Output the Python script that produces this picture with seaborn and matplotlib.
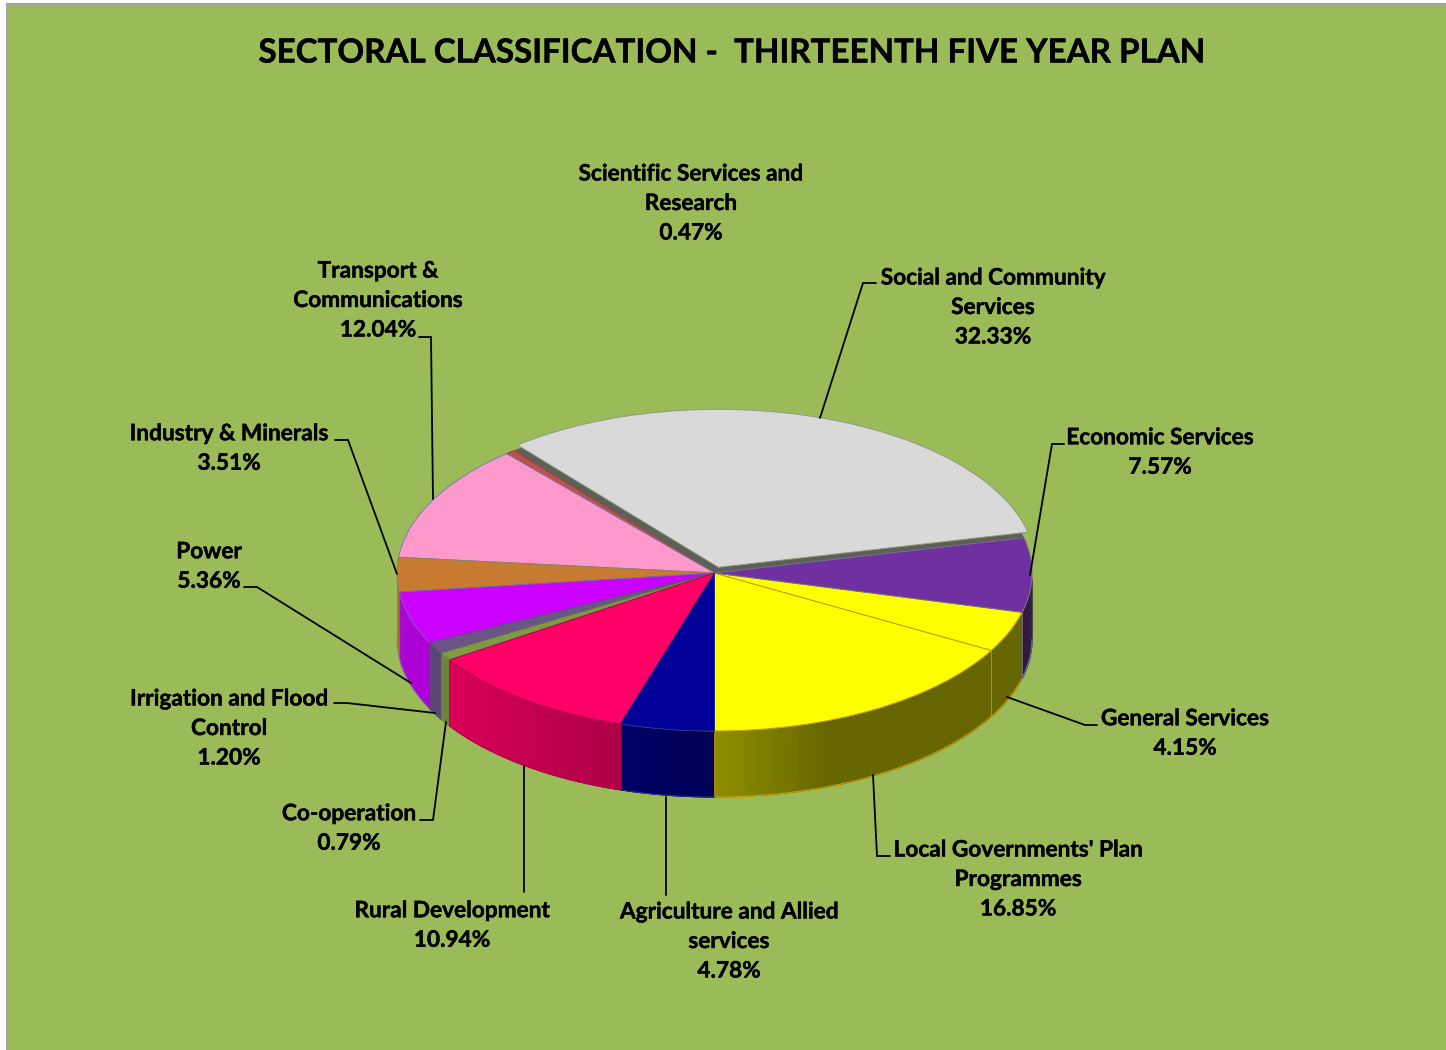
import numpy as np
import matplotlib
matplotlib.use('Agg')
import matplotlib.pyplot as plt
from matplotlib.patches import Rectangle
import matplotlib.patheffects as pe
import seaborn as sns

# data, in the order the slices run round the pie
names = ["Local Governments' Plan\nProgrammes", 'General Services', 'Economic Services',
         'Social and Community\nServices', 'Scientific Services and\nResearch',
         'Transport &\nCommunications', 'Industry & Minerals', 'Power',
         'Irrigation and Flood\nControl', 'Co-operation', 'Rural Development',
         'Agriculture and Allied\nservices']
values = [16.85, 4.15, 7.57, 32.33, 0.47, 12.04, 3.51, 5.36, 1.20, 0.79, 10.94, 4.78]
colors = ['#FFFF00', '#FFFF00', '#7030A0', '#D9D9D9', '#C0504D', '#FF99CC',
          '#C77B30', '#CC00FF', '#6C5488', '#7F9A44', '#FF0066', '#000099']
edges = ['#CC9900', '#CC9900', '#6F6F8F', '#8F9A80', '#A04040', '#7080B0',
         '#8F7F5F', '#7F5FAF', '#5A4A75', '#6C833A', '#B00050', '#203080']
explode = [0, 0, 0, 0.038, 0, 0, 0, 0, 0, 0, 0, 0]

# label centres and leader lines, in pixels of the picture
label_pos = [(1018, 878), (1185, 732), (1160, 451), (993, 306), (691, 202), (378, 299),
             (229, 447), (209, 565), (229, 727), (349, 827), (452, 924), (729, 940)]
leaders = [[(873, 775), (877, 856), (890, 856)],
           [(1007, 697), (1085, 725), (1097, 725)],
           [(1030, 575), (1052, 444), (1064, 444)],
           [(820, 418), (863, 283), (876, 283)],
           [(433, 499), (431, 337), (419, 337)],
           [(397, 574), (348, 440), (335, 440)],
           [(411, 683), (257, 587), (244, 587)],
           [(435, 713), (347, 703), (334, 703)],
           [(446, 722), (433, 820), (420, 820)],
           [(524, 766), (524, 892)],
           [(666, 797), (666, 895)]]

W, H = 1446, 1050
cx, cy, rx, ry = 714.5, 573, 317.5, 158
depth = 66 / ry
start = 270

sns.set_theme(style='white')
plt.rcParams['font.family'] = ['Lato', 'DejaVu Sans']

fig = plt.figure(figsize=(W / 100, H / 100), dpi=100, facecolor='white')

# background panel
bg = fig.add_axes([0, 0, 1, 1], zorder=0)
bg.set_xlim(0, W)
bg.set_ylim(H, 0)
bg.axis('off')
bg.add_patch(Rectangle((7, 4), W, H, facecolor='#9BBB59', edgecolor='#A6A6A6', lw=1.5))

# pie axes: the unit circle gets squashed to an ellipse
ax = fig.add_axes([0, 0, 1, 1], zorder=1)
ax.patch.set_visible(False)


def side_shade(x):
    return np.interp(x, [-1, -0.83, -0.3, 0, 0.36, 1], [0.85, 0.85, 0.68, 0.56, 0.40, 0.40])


# side wall, slice by slice. each strip runs over the next one so no seams show
bounds = start + 3.6 * np.concatenate([[0], np.cumsum(values)]) * 100 / sum(values)
for i, col in enumerate(colors):
    rgb = np.array(matplotlib.colors.to_rgb(col))
    for lo, hi in [(180, 360), (540, 720)]:
        a, b = max(bounds[i], lo), min(bounds[i + 1], hi)
        if b <= a:
            continue
        th = np.radians(np.linspace(a, b, max(int((b - a) * 3), 2) + 1))
        xs, ys = np.cos(th), np.sin(th)
        for j in range(len(th) - 1):
            shade = rgb * side_shade((xs[j] + xs[j + 1]) / 2)
            ax.fill_between(xs[j:j + 3], ys[j:j + 3], ys[j:j + 3] - depth,
                            color=shade, lw=0, antialiased=False, zorder=1)
        ax.plot(xs, ys - depth, color=edges[i], lw=0.8, zorder=2)
        ax.plot([xs[0], xs[0]], [ys[0], ys[0] - depth], color=edges[i], lw=0.6, zorder=2)

# grey cut face left behind the pulled out slice
cut = ['none'] * len(values)
cut[3] = '#5E6058'
ax.pie(values, colors=cut, startangle=start, counterclock=True, radius=1,
       wedgeprops={'linewidth': 0, 'zorder': 3})

wedges, _ = ax.pie(values, colors=colors, explode=explode, startangle=start, counterclock=True,
                   radius=1, wedgeprops={'linewidth': 0.7, 'zorder': 4})
for w, e in zip(wedges, edges):
    w.set_edgecolor(e)

ax.set_aspect('auto')
ax.set_xlim(-cx / rx, (W - cx) / rx)
ax.set_ylim((cy - H) / ry, cy / ry)

# text and leader lines on top
top = fig.add_axes([0, 0, 1, 1], zorder=2)
top.patch.set_visible(False)
top.set_xlim(0, W)
top.set_ylim(H, 0)
top.axis('off')

for pts in leaders:
    px, py = zip(*pts)
    top.plot(px, py, color='black', lw=1.3, solid_joinstyle='miter')

# Lato bold is a little lighter than the original face
thicker = [pe.withStroke(linewidth=0.3, foreground='black')]
for name, val, (x, y) in zip(names, values, label_pos):
    top.text(x, y + 1.5, f'{name}\n{val:.2f}%', ha='center', va='center', fontsize=16.3,
             fontweight='bold', color='black', linespacing=1.5, path_effects=thicker)

top.text(731, 53, 'SECTORAL CLASSIFICATION -  THIRTEENTH FIVE YEAR PLAN', ha='center', va='center',
         fontsize=23.85, fontweight='bold', color='black', path_effects=thicker)

fig.savefig('out.png', dpi=100, facecolor='white')
